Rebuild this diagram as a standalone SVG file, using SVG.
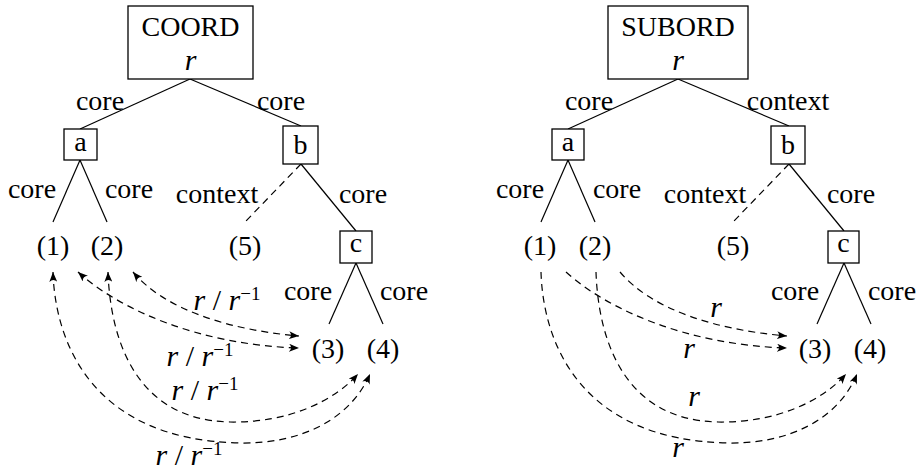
<svg xmlns="http://www.w3.org/2000/svg" width="919" height="473" viewBox="0 0 919 473">
<style>
text{font-family:"Liberation Serif","Times New Roman",serif;font-size:28px;fill:#000}
.m{text-anchor:middle}
.i{font-style:italic}
.ml{font-size:30px}
.box{fill:#fff;stroke:#000;stroke-width:1.3}
.e{fill:none;stroke:#000;stroke-width:1.2}
.d{fill:none;stroke:#000;stroke-width:1.2;stroke-dasharray:7 5}
.a{fill:none;stroke:#000;stroke-width:1.2;stroke-dasharray:7 5;marker-end:url(#ah)}
.aa{fill:none;stroke:#000;stroke-width:1.2;stroke-dasharray:7 5;marker-end:url(#ah);marker-start:url(#ah)}
.sup{font-size:19px}
</style>
<defs>
<marker id="ah" viewBox="0 0 10 8" refX="10" refY="4" markerWidth="10" markerHeight="8" markerUnits="userSpaceOnUse" orient="auto-start-reverse">
<path d="M0,0 Q4,4 0,8 L10,4 z" fill="#000" stroke="none"/>
</marker>
</defs>
<rect width="919" height="473" fill="#fff"/>

<g id="connectors">
<!-- left tree edges -->
<line class="e" x1="190" y1="79" x2="80" y2="129"/>
<line class="e" x1="190" y1="79" x2="301" y2="126"/>
<line class="e" x1="80" y1="160" x2="53" y2="222"/>
<line class="e" x1="80" y1="160" x2="107" y2="222"/>
<line class="d" x1="301" y1="164" x2="245" y2="222"/>
<line class="e" x1="301" y1="164" x2="356" y2="231"/>
<line class="e" x1="356" y1="263" x2="329" y2="324"/>
<line class="e" x1="356" y1="263" x2="383" y2="324"/>
<!-- left relation arrows -->
<path class="aa" d="M133,272 C165,310 230,330 299,336"/>
<path class="aa" d="M78,272 C120,310 200,345 299,348"/>
<path class="aa" d="M108,272 C110,330 130,420 230,422 C290,423 335,400 358,374"/>
<path class="aa" d="M53,272 C55,340 90,440 240,443 C300,444 350,420 370,374"/>
<!-- right tree edges -->
<line class="e" x1="678" y1="79" x2="568" y2="129"/>
<line class="e" x1="678" y1="79" x2="789" y2="126"/>
<line class="e" x1="568" y1="160" x2="541" y2="222"/>
<line class="e" x1="568" y1="160" x2="595" y2="222"/>
<line class="d" x1="789" y1="164" x2="733" y2="222"/>
<line class="e" x1="789" y1="164" x2="844" y2="231"/>
<line class="e" x1="844" y1="263" x2="817" y2="324"/>
<line class="e" x1="844" y1="263" x2="871" y2="324"/>
<!-- right relation arrows -->
<path class="a" d="M620,272 C652,310 717,330 787,336"/>
<path class="a" d="M566,272 C608,310 688,345 787,348"/>
<path class="a" d="M596,272 C598,330 618,420 718,422 C778,423 823,400 846,374"/>
<path class="a" d="M541,272 C543,340 578,440 728,443 C788,444 838,420 857,374"/>
</g>

<g id="edge-labels">
<text class="m" x="100" y="110">core</text>
<text class="m" x="281" y="110">core</text>
<text class="m" x="32" y="198">core</text>
<text class="m" x="129" y="198">core</text>
<text class="m" x="217" y="203">context</text>
<text class="m" x="363" y="203">core</text>
<text class="m" x="308" y="300">core</text>
<text class="m" x="404" y="300">core</text>
<text class="m ml" x="227" y="310"><tspan class="i">r</tspan> / <tspan class="i">r</tspan><tspan class="sup" dy="-10">−1</tspan></text>
<text class="m ml" x="200" y="366"><tspan class="i">r</tspan> / <tspan class="i">r</tspan><tspan class="sup" dy="-10">−1</tspan></text>
<text class="m ml" x="205" y="400"><tspan class="i">r</tspan> / <tspan class="i">r</tspan><tspan class="sup" dy="-10">−1</tspan></text>
<text class="m ml" x="189" y="465"><tspan class="i">r</tspan> / <tspan class="i">r</tspan><tspan class="sup" dy="-10">−1</tspan></text>

<text class="m" x="589" y="110">core</text>
<text class="m" x="788" y="110">context</text>
<text class="m" x="520" y="198">core</text>
<text class="m" x="617" y="198">core</text>
<text class="m" x="705" y="203">context</text>
<text class="m" x="851" y="203">core</text>
<text class="m" x="795" y="300">core</text>
<text class="m" x="892" y="300">core</text>
<text class="m i ml" x="716" y="317">r</text>
<text class="m i ml" x="689" y="358">r</text>
<text class="m i ml" x="694" y="406">r</text>
<text class="m i ml" x="678" y="457">r</text>
</g>

<g id="coord">
<rect class="box" x="128" y="6" width="125" height="73"/>
<text class="m" x="190.5" y="36">COORD</text>
<text class="m i ml" x="190.5" y="70">r</text>
</g>
<g id="coord-a"><rect class="box" x="64" y="129" width="33" height="31"/><text class="m" x="80.5" y="151">a</text></g>
<g id="coord-b"><rect class="box" x="283" y="126" width="35" height="38"/><text class="m" x="300.5" y="154">b</text></g>
<g id="coord-c"><rect class="box" x="340" y="231" width="32" height="32"/><text class="m" x="356" y="252">c</text></g>
<g id="coord-1"><text class="m" x="53" y="255">(1)</text></g>
<g id="coord-2"><text class="m" x="107" y="255">(2)</text></g>
<g id="coord-5"><text class="m" x="245" y="255">(5)</text></g>
<g id="coord-3"><text class="m" x="328" y="358">(3)</text></g>
<g id="coord-4"><text class="m" x="383" y="358">(4)</text></g>

<g id="subord">
<rect class="box" x="608" y="6" width="140" height="73"/>
<text class="m" x="678" y="36">SUBORD</text>
<text class="m i ml" x="678" y="70">r</text>
</g>
<g id="subord-a"><rect class="box" x="552" y="129" width="32" height="31"/><text class="m" x="568" y="151">a</text></g>
<g id="subord-b"><rect class="box" x="771" y="126" width="34" height="38"/><text class="m" x="788" y="154">b</text></g>
<g id="subord-c"><rect class="box" x="828" y="231" width="31" height="32"/><text class="m" x="843.5" y="252">c</text></g>
<g id="subord-1"><text class="m" x="540" y="255">(1)</text></g>
<g id="subord-2"><text class="m" x="595" y="255">(2)</text></g>
<g id="subord-5"><text class="m" x="733" y="255">(5)</text></g>
<g id="subord-3"><text class="m" x="815" y="358">(3)</text></g>
<g id="subord-4"><text class="m" x="870" y="358">(4)</text></g>
</svg>
